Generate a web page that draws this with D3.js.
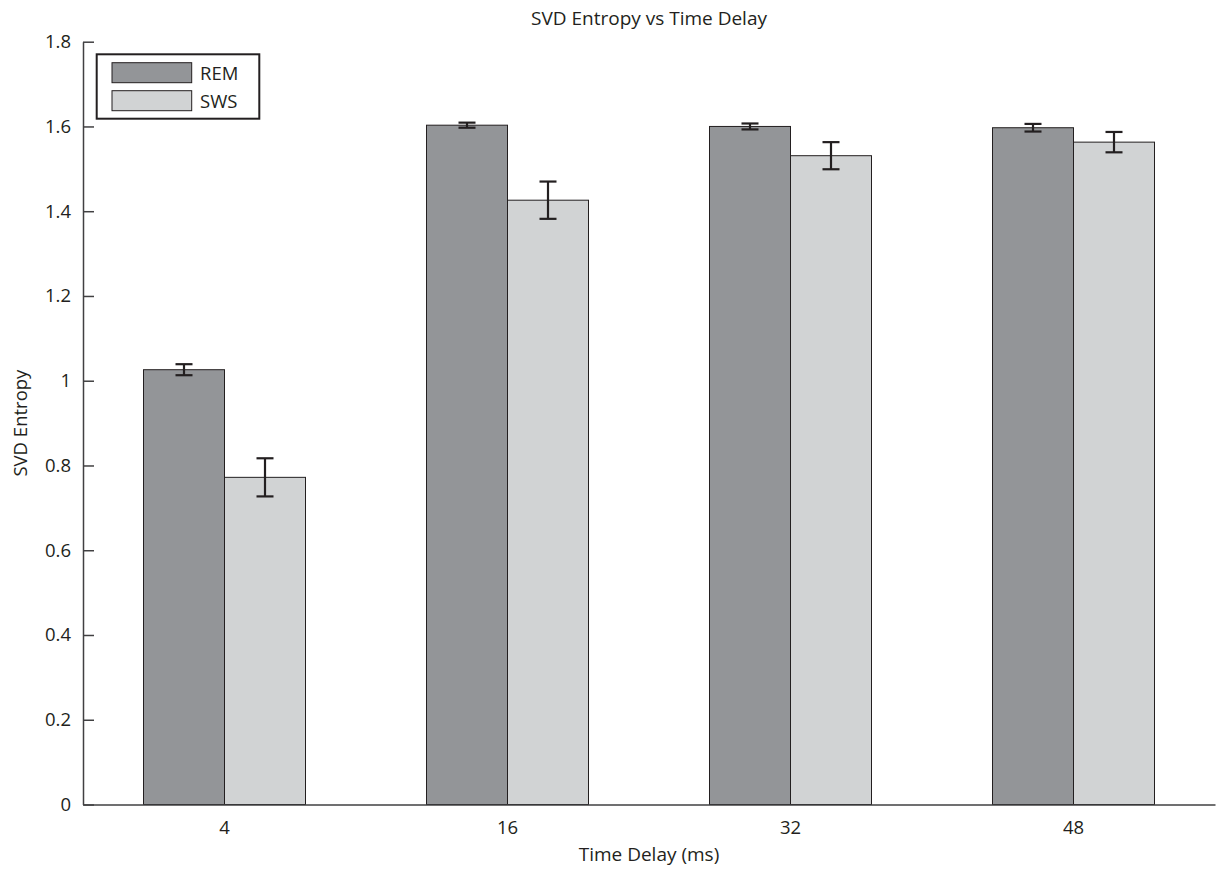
<!DOCTYPE html>
<html>
<head>
<meta charset="utf-8">
<script src="https://cdn.jsdelivr.net/npm/d3@7"></script>
<style>
  html, body { margin: 0; padding: 0; background: #fff; }
  text { font-family: "Open Sans", "Noto Sans", sans-serif; fill: #231f20; }
</style>
</head>
<body>
<svg id="chart" width="1219" height="869"></svg>
<script>
// Time delays (ms) on the x axis
const categories = ["4", "16", "32", "48"];
const seriesNames = ["REM", "SWS"];
// Mean SVD entropy per delay
const remValues = [1.026, 1.603, 1.600, 1.597];
const swsValues = [0.772, 1.426, 1.531, 1.563];
// Error bar half-widths
const remErrors = [0.013, 0.006, 0.007, 0.009];
const swsErrors = [0.045, 0.044, 0.032, 0.024];
const yTicks = [0, 0.2, 0.4, 0.6, 0.8, 1, 1.2, 1.4, 1.6, 1.8];
const colors = ["#939598", "#d1d3d4"];

const svg = d3.select("#chart");
const plotLeft = 83, plotRight = 1215, plotTop = 41.7, plotBottom = 804.5;
const fontSize = 18.5;

const x = d3.scaleBand().domain(categories).range([plotLeft, plotRight]).paddingInner(0).paddingOuter(0);
const inner = d3.scaleBand().domain(seriesNames).range([0, 162]);
const groupOffset = (x.bandwidth() - 162) / 2;
const y = d3.scaleLinear().domain([0, 1.8]).range([plotBottom, plotTop]);

const series = [
  { name: "REM", values: remValues, errors: remErrors, color: colors[0] },
  { name: "SWS", values: swsValues, errors: swsErrors, color: colors[1] }
];

// Bars
series.forEach(s => {
  svg.append("g").selectAll("rect")
    .data(categories.map((c, i) => ({ c, v: s.values[i], e: s.errors[i] })))
    .join("rect")
    .attr("x", d => x(d.c) + groupOffset + inner(s.name))
    .attr("y", d => y(d.v))
    .attr("width", inner.bandwidth())
    .attr("height", d => y(0) - y(d.v))
    .attr("fill", s.color)
    .attr("stroke", "#231f20")
    .attr("stroke-width", 1);
});

// Error bars
series.forEach(s => {
  const g = svg.append("g").attr("stroke", "#231f20").attr("stroke-width", 2.2);
  categories.forEach((c, i) => {
    const cx = x(c) + groupOffset + inner(s.name) + inner.bandwidth() / 2;
    const y1 = y(s.values[i] + s.errors[i]);
    const y2 = y(s.values[i] - s.errors[i]);
    g.append("line").attr("x1", cx).attr("x2", cx).attr("y1", y1).attr("y2", y2);
    g.append("line").attr("x1", cx - 8.5).attr("x2", cx + 8.5).attr("y1", y1).attr("y2", y1);
    g.append("line").attr("x1", cx - 8.5).attr("x2", cx + 8.5).attr("y1", y2).attr("y2", y2);
  });
});

// Y axis with inward ticks
const yAxis = d3.axisLeft(y).tickValues(yTicks).tickSizeInner(-11).tickSizeOuter(0)
  .tickPadding(12).tickFormat(d3.format("~g"));
const yg = svg.append("g").attr("transform", `translate(${plotLeft},0)`).call(yAxis);
yg.select(".domain").attr("stroke", "#414042").attr("stroke-width", 1.5);
yg.selectAll(".tick line").attr("stroke", "#414042").attr("stroke-width", 1.5);
yg.selectAll(".tick text").attr("font-size", fontSize).attr("font-family", "Open Sans, Noto Sans, sans-serif").attr("fill", "#231f20");

// X axis
const xAxis = d3.axisBottom(x).tickSize(0).tickSizeOuter(0).tickPadding(16);
const xg = svg.append("g").attr("transform", `translate(0,${plotBottom})`).call(xAxis);
xg.select(".domain").attr("stroke", "#414042").attr("stroke-width", 1.5);
xg.selectAll(".tick text").attr("font-size", fontSize).attr("font-family", "Open Sans, Noto Sans, sans-serif").attr("fill", "#231f20");

// Title and axis labels
svg.append("text").attr("x", (plotLeft + plotRight) / 2).attr("y", 25).attr("text-anchor", "middle")
  .attr("font-size", 19).text("SVD Entropy vs Time Delay");
svg.append("text").attr("x", (plotLeft + plotRight) / 2).attr("y", 861).attr("text-anchor", "middle")
  .attr("font-size", 19).text("Time Delay (ms)");
svg.append("text").attr("transform", `translate(27,${(plotTop + plotBottom) / 2}) rotate(-90)`)
  .attr("text-anchor", "middle").attr("font-size", fontSize).text("SVD Entropy");

// Legend
const lg = svg.append("g");
lg.append("rect").attr("x", 96.7).attr("y", 54.3).attr("width", 162.6).attr("height", 64.4)
  .attr("fill", "#fff").attr("stroke", "#231f20").attr("stroke-width", 2);
series.forEach((s, i) => {
  lg.append("rect").attr("x", 112).attr("y", 62.7 + i * 28).attr("width", 79.7).attr("height", 20)
    .attr("fill", s.color).attr("stroke", "#231f20").attr("stroke-width", 1);
  lg.append("text").attr("x", 200).attr("y", 80 + i * 28).attr("font-size", fontSize).text(s.name);
});
</script>
</body>
</html>
